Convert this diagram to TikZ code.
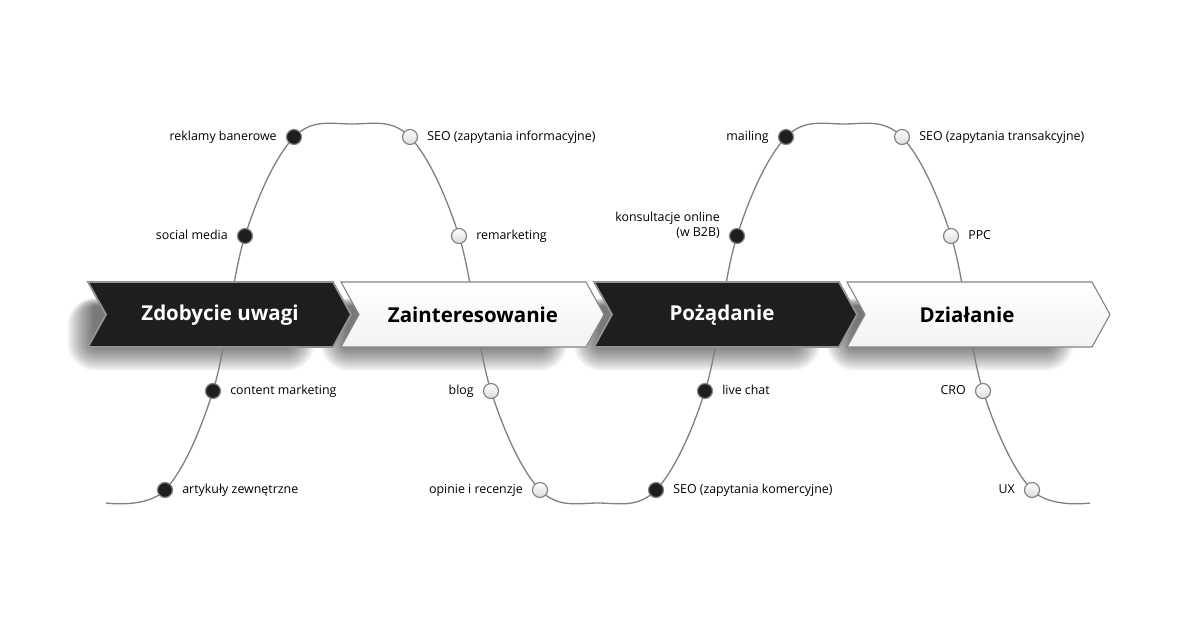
\documentclass[tikz,border=0pt]{standalone}
\usepackage{fontspec}
\setmainfont{Open Sans}
\definecolor{dark}{HTML}{1E1E1E}
\definecolor{rim}{HTML}{858585}
\definecolor{wline}{HTML}{808080}
\begin{document}
\begin{tikzpicture}[x=1pt,y=-1pt,
  dotb/.style={circle,draw=rim,line width=1.2pt,fill=dark,minimum size=15pt,inner sep=0pt},
  dotw/.style={circle,draw=rim,line width=1.2pt,top color=white,bottom color=black!14,minimum size=15pt,inner sep=0pt},
  lbl/.style={font=\fontsize{12.4}{15}\selectfont,inner sep=0pt,text height=9pt,text depth=3pt},
  lblL/.style={lbl,anchor=east,xshift=-9pt},
  lblR/.style={lbl,anchor=west,xshift=9pt},
  head/.style={font=\bfseries\fontsize{20.5}{24}\selectfont,inner sep=0pt},
  headb/.style={head,text=white},
  headw/.style={head,text=black},
  arb/.style={fill=dark,draw=black!42,line width=1.8pt,line join=miter},
  arw/.style={top color=white,bottom color=black!5,draw=rim,line width=1.1pt,line join=miter},
  shadlayer/.style={fill=black,fill opacity=0.022},
  wave/.style={draw=wline,line width=1.3pt}
]
\fill[white] (0,0) rectangle (1200,630);
\useasboundingbox (0,0) rectangle (1200,630);

% curve points
\coordinate (s0) at (106,503);
\coordinate (p1) at (165,490);
\coordinate (p2) at (213,391);
\coordinate (p3) at (245,236);
\coordinate (p4) at (294,137);
\coordinate (t1) at (352,124);
\coordinate (p5) at (410,137);
\coordinate (p6) at (459,236);
\coordinate (p7) at (491,391);
\coordinate (p8) at (540,490);
\coordinate (b1) at (598,503);
\coordinate (p9) at (656,490);
\coordinate (p10) at (705,391);
\coordinate (p11) at (737,236);
\coordinate (p12) at (786,137);
\coordinate (t2) at (844,124);
\coordinate (p13) at (902,137);
\coordinate (p14) at (951,236);
\coordinate (p15) at (983,391);
\coordinate (p16) at (1032,490);
\coordinate (e0) at (1090,503);

% soft shadows (layered)
\foreach \x in {88,341,594,847}{
  \foreach \k in {0,...,27}{
    \fill[shadlayer,rounded corners=\k pt+1pt] (\x+6-\k,306-0.3*\k) rectangle (\x+200+\k,344+\k);
  }
}

\draw[wave] plot[smooth,tension=0.6] coordinates {(s0) (p1) (p2) (p3) (p4) (t1) (p5) (p6) (p7) (p8) (b1) (p9) (p10) (p11) (p12) (t2) (p13) (p14) (p15) (p16) (e0)};

% arrows
\foreach \x/\st in {88/arb,341/arw,594/arb,847/arw}
  \path[\st] (\x,282) -- ++(245,0) -- ++(18,32.5) -- ++(-18,32.5) -- ++(-245,0) -- ++(18,-32.5) -- cycle;

\node[headb] (h1) at (220,315) {Zdobycie uwagi};
\node[headw] (h2) at (473,315) {Zainteresowanie};
\node[headb] (h3) at (722,315) {Pożądanie};
\node[headw] (h4) at (967,315) {Działanie};

% dots
\node[dotb] (n1) at (p1) {};
\node[dotb] (n2) at (p2) {};
\node[dotb] (n3) at (p3) {};
\node[dotb] (n4) at (p4) {};
\node[dotw] (n5) at (p5) {};
\node[dotw] (n6) at (p6) {};
\node[dotw] (n7) at (p7) {};
\node[dotw] (n8) at (p8) {};
\node[dotb] (n9) at (p9) {};
\node[dotb] (n10) at (p10) {};
\node[dotb] (n11) at (p11) {};
\node[dotb] (n12) at (p12) {};
\node[dotw] (n13) at (p13) {};
\node[dotw] (n14) at (p14) {};
\node[dotw] (n15) at (p15) {};
\node[dotw] (n16) at (p16) {};

% labels
\node[lblR] (l1) at (n1.east) {artykuły zewnętrzne};
\node[lblR] (l2) at (n2.east) {content marketing};
\node[lblL] (l3) at (n3.west) {social media};
\node[lblL] (l4) at (n4.west) {reklamy banerowe};
\node[lblR] (l5) at (n5.east) {SEO (zapytania informacyjne)};
\node[lblR] (l6) at (n6.east) {remarketing};
\node[lblL] (l7) at (n7.west) {blog};
\node[lblL] (l8) at (n8.west) {opinie i recenzje};
\node[lblR] (l9) at (n9.east) {SEO (zapytania komercyjne)};
\node[lblR] (l10) at (n10.east) {live chat};
\node[lbl,align=right,anchor=north east,xshift=-9pt,yshift=8.5pt] (l11) at (n11.west) {konsultacje online\\(w B2B)};
\node[lblL] (l12) at (n12.west) {mailing};
\node[lblR] (l13) at (n13.east) {SEO (zapytania transakcyjne)};
\node[lblR] (l14) at (n14.east) {PPC};
\node[lblL] (l15) at (n15.west) {CRO};
\node[lblL] (l16) at (n16.west) {UX};
\end{tikzpicture}
\end{document}
